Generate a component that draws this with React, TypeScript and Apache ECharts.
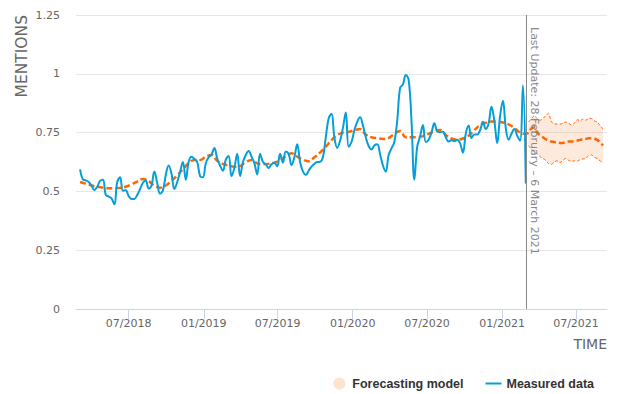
import React, { useEffect, useRef } from "react";
import * as echarts from "echarts";

// ---------- data ----------
const measuredStart = "2018-03-04"; // first weekly observation
const measuredValues = [
  0.594, 0.551, 0.547, 0.54, 0.525, 0.505, 0.52, 0.545, 0.55, 0.485,
  0.478, 0.47, 0.445, 0.54, 0.56, 0.503, 0.505, 0.48, 0.468, 0.468,
  0.485, 0.51, 0.537, 0.546, 0.512, 0.525, 0.585, 0.536, 0.49, 0.505,
  0.57, 0.61, 0.575, 0.51, 0.54, 0.583, 0.625, 0.55, 0.625, 0.647,
  0.638, 0.625, 0.565, 0.56, 0.62, 0.645, 0.657, 0.684, 0.64, 0.61,
  0.588, 0.635, 0.65, 0.565, 0.6, 0.66, 0.565, 0.625, 0.655, 0.672,
  0.648, 0.62, 0.572, 0.66, 0.625, 0.615, 0.6, 0.615, 0.622, 0.607,
  0.66, 0.622, 0.67, 0.66, 0.612, 0.645, 0.7, 0.625, 0.585, 0.57,
  0.588, 0.605, 0.617, 0.625, 0.626, 0.645, 0.73, 0.81, 0.83, 0.73,
  0.685, 0.715, 0.77, 0.835, 0.69, 0.71, 0.76, 0.796, 0.815, 0.78,
  0.73, 0.693, 0.678, 0.695, 0.7, 0.658, 0.61, 0.584, 0.655, 0.683,
  0.71, 0.8, 0.94, 0.955, 0.995, 0.975, 0.8, 0.55, 0.69, 0.733,
  0.782, 0.71, 0.72, 0.75, 0.79, 0.755, 0.752, 0.754, 0.73, 0.712,
  0.718, 0.713, 0.72, 0.705, 0.665, 0.745, 0.78, 0.727, 0.742, 0.742,
  0.76, 0.796, 0.765, 0.79, 0.86, 0.8, 0.705, 0.82, 0.885, 0.77,
  0.72, 0.745, 0.765, 0.737, 0.715, 0.95, 0.534,
];

// forecasting model on the measured period, one value every 2 weeks from measuredStart
const forecastPastValues = [
  0.54, 0.533, 0.525, 0.52, 0.516, 0.513, 0.513, 0.515, 0.52, 0.53,
  0.542, 0.553, 0.543, 0.525, 0.516, 0.525, 0.545, 0.568, 0.595, 0.62,
  0.634, 0.633, 0.648, 0.655, 0.63, 0.617, 0.61, 0.605, 0.608, 0.625,
  0.634, 0.619, 0.615, 0.617, 0.622, 0.632, 0.65, 0.662, 0.648, 0.635,
  0.628, 0.645, 0.665, 0.69, 0.718, 0.74, 0.75, 0.753, 0.76, 0.765,
  0.742, 0.73, 0.726, 0.723, 0.727, 0.745, 0.757, 0.73, 0.73, 0.73,
  0.735, 0.745, 0.755, 0.761, 0.74, 0.725, 0.72, 0.725, 0.737, 0.76,
  0.782, 0.792, 0.797, 0.797, 0.793, 0.785, 0.77, 0.75, 0.745,
];

// forecast after the last update, weekly (weeks 157..183 after measuredStart)
const forecastFutureValues = [
  0.75, 0.768, 0.772, 0.75, 0.738, 0.73, 0.722, 0.716, 0.712, 0.71,
  0.708, 0.706, 0.706, 0.71, 0.712, 0.712, 0.713, 0.716, 0.719, 0.721,
  0.723, 0.726, 0.726, 0.724, 0.719, 0.708, 0.695,
];
const forecastUpperValues = [
  0.795, 0.81, 0.822, 0.81, 0.802, 0.81, 0.822, 0.832, 0.795, 0.788,
  0.786, 0.786, 0.79, 0.795, 0.79, 0.782, 0.79, 0.805, 0.8, 0.808,
  0.803, 0.81, 0.81, 0.8, 0.795, 0.78, 0.765,
];
const forecastLowerValues = [
  0.695, 0.678, 0.665, 0.66, 0.648, 0.64, 0.632, 0.618, 0.615, 0.625,
  0.63, 0.622, 0.632, 0.64, 0.632, 0.628, 0.63, 0.628, 0.635, 0.638,
  0.64, 0.652, 0.655, 0.645, 0.64, 0.63, 0.62,
];
const futureStartWeek = 157;

const xTickDates = [
  "2018-07-01", "2019-01-01", "2019-07-01", "2020-01-01",
  "2020-07-01", "2021-01-01", "2021-07-01",
];
const xMinDate = "2018-02-22";
const xMaxDate = "2021-09-15";
const lastUpdateDate = "2021-02-28";
const lastUpdateLabel = "Last Update: 28 February – 6 March 2021";
const yTitle = "MENTIONS";
const xTitle = "TIME";
const seriesNames = ["Forecasting model", "Measured data"];

// ---------- helpers ----------
const DAY = 86400000;
const ts = (s: string) => Date.parse(s + "T00:00:00Z");
const t0 = ts(measuredStart);
const weekTs = (w: number) => t0 + w * 7 * DAY;
const fmt = (v: number) => {
  const d = new Date(v);
  const m = d.getUTCMonth() + 1;
  return (m < 10 ? "0" + m : "" + m) + "/" + d.getUTCFullYear();
};

const BLUE = "#049fd9";
const ORANGE = "#ff6600";
const BAND_FILL = "rgba(250,110,30,0.15)";
const AXIS_FONT = "'DejaVu Sans', Verdana, sans-serif";

export default function App() {
  const ref = useRef<HTMLDivElement>(null);

  useEffect(() => {
    document.body.style.margin = "0";
    if (!ref.current) return;
    const chart = echarts.init(ref.current, null, { renderer: "svg" });

    const measuredData = measuredValues.map((v, i) => [weekTs(i), v]);
    const forecastData = forecastPastValues
      .map((v, j) => [weekTs(2 * j), v])
      .concat(forecastFutureValues.map((v, k) => [weekTs(futureStartWeek + k), v]));
    const bandData = forecastUpperValues.map((v, k) => [
      weekTs(futureStartWeek + k),
      v,
      forecastLowerValues[k],
    ]);
    const tickTs = xTickDates.map(ts);
    const lastTs = ts(lastUpdateDate);

    const renderBand = (params: any, api: any) => {
      if (params.dataIndex !== 0) return null;
      const up = bandData.map((d) => api.coord([d[0], d[1]]));
      const lo = bandData.map((d) => api.coord([d[0], d[2]]));
      const dashStyle = { stroke: ORANGE, lineWidth: 1, lineDash: [3, 2], fill: null };
      return {
        type: "group",
        children: [
          {
            type: "polygon",
            shape: { points: up.concat(lo.slice().reverse()), smooth: 0.25 },
            style: { fill: BAND_FILL, stroke: null },
          },
          { type: "polyline", shape: { points: up, smooth: 0.25 }, style: dashStyle },
          { type: "polyline", shape: { points: lo, smooth: 0.25 }, style: dashStyle },
        ],
      };
    };

    const option: any = {
      animation: false,
      grid: { left: 76, right: 12, top: 15, bottom: 85, containLabel: false, outerBoundsMode: "none" },
      legend: {
        right: 20,
        top: 372,
        itemWidth: 16,
        itemHeight: 12,
        itemGap: 21,
        selectedMode: false,
        textStyle: {
          color: "#333",
          fontWeight: "bold",
          fontSize: 12.5,
          fontFamily: "'Liberation Sans', Arial, sans-serif",
        },
        data: [
          { name: seriesNames[0], icon: "circle", itemStyle: { color: "#fde3d2", borderWidth: 0, opacity: 1 } },
          { name: seriesNames[1], itemStyle: { opacity: 0 } },
        ],
      },
      xAxis: {
        type: "value",
        min: ts(xMinDate),
        max: ts(xMaxDate),
        axisLine: { show: true, lineStyle: { color: "#ccd6eb", width: 1 } },
        axisTick: { show: true, length: 10, lineStyle: { color: "#ccd6eb" }, customValues: tickTs },
        axisLabel: {
          customValues: tickTs,
          formatter: (v: number) => fmt(v),
          color: "#666",
          fontSize: 11,
          fontFamily: AXIS_FONT,
          margin: 9,
          hideOverlap: false,
        },
        splitLine: { show: false },
      },
      yAxis: {
        type: "value",
        min: 0,
        max: 1.25,
        interval: 0.25,
        axisLine: { show: false },
        axisTick: { show: false },
        axisLabel: { color: "#666", fontSize: 11, fontFamily: AXIS_FONT, margin: 16 },
        splitLine: { lineStyle: { color: "#e6e6e6", width: 1 } },
      },
      series: [
        {
          name: seriesNames[0],
          type: "custom",
          data: bandData,
          encode: { x: 0, y: [1, 2] },
          renderItem: renderBand,
          itemStyle: { color: "#fde3d2" },
          silent: true,
          z: 1,
        },
        {
          name: seriesNames[0],
          type: "line",
          data: forecastData,
          symbol: "none",
          smooth: 0.4,
          lineStyle: { color: ORANGE, width: 2.5, type: [6, 3] },
          itemStyle: { color: ORANGE },
          z: 2,
        },
        {
          name: seriesNames[1],
          type: "line",
          data: measuredData,
          symbol: "none",
          smooth: 0.4,
          lineStyle: { color: BLUE, width: 2 },
          itemStyle: { color: BLUE },
          z: 3,
          markLine: {
            silent: true,
            symbol: "none",
            label: { show: false },
            lineStyle: { color: "#888", width: 1, type: "solid" },
            data: [{ xAxis: lastTs }],
          },
        },
      ],
    };

    chart.setOption(option);

    const lineX = chart.convertToPixel({ xAxisIndex: 0 }, lastTs) as number;
    const topY = chart.convertToPixel({ yAxisIndex: 0 }, 1.25) as number;
    const bottomY = chart.convertToPixel({ yAxisIndex: 0 }, 0) as number;
    const rightX = chart.convertToPixel({ xAxisIndex: 0 }, ts(xMaxDate)) as number;

    chart.setOption({
      graphic: [
        {
          type: "text",
          x: 22,
          y: topY,
          z: 100,
          rotation: Math.PI / 2,
          style: {
            text: yTitle,
            fill: "#666",
            fontSize: 15.5,
            fontFamily: AXIS_FONT,
            align: "right",
            verticalAlign: "middle",
          },
        },
        {
          type: "text",
          x: rightX,
          y: bottomY + 35,
          z: 100,
          style: {
            text: xTitle,
            fill: "#666",
            fontSize: 14,
            fontFamily: AXIS_FONT,
            align: "right",
            verticalAlign: "middle",
          },
        },
        {
          type: "text",
          x: lineX + 9,
          y: topY + 12,
          z: 100,
          rotation: -Math.PI / 2,
          style: {
            text: lastUpdateLabel,
            fill: "#888",
            fontSize: 11,
            fontFamily: AXIS_FONT,
            align: "left",
            verticalAlign: "middle",
          },
        },
      ],
    });

    return () => chart.dispose();
  }, []);

  return <div ref={ref} style={{ width: 619, height: 394 }} />;
}
